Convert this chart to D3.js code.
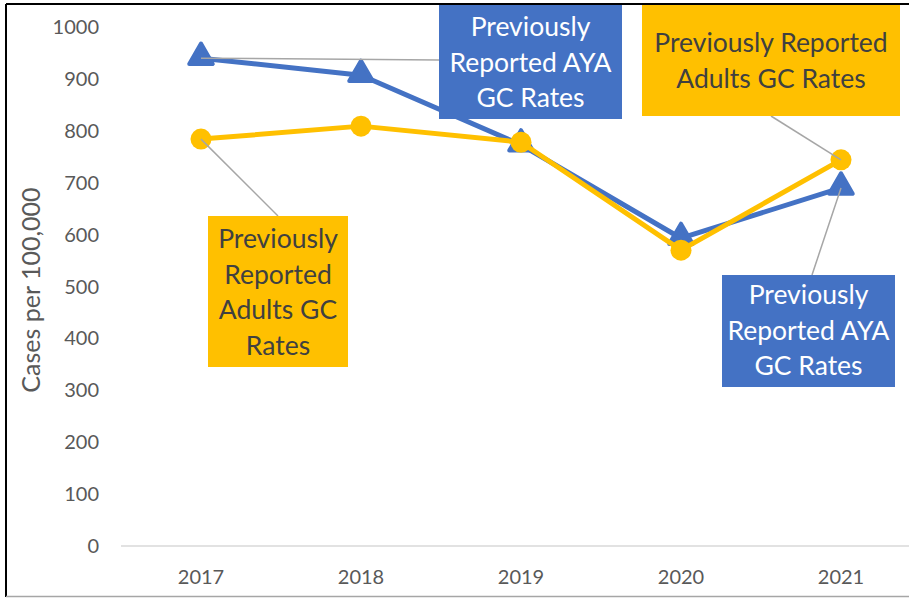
<!DOCTYPE html>
<html>
<head>
<meta charset="UTF-8">
<title>GC Rates</title>
<style>
  body { margin: 0; background: #fff; }
  svg text { font-family: Lato, "Open Sans", sans-serif; }
</style>
</head>
<body>
<div id="chart"></div>
<script src="https://d3js.org/d3.v7.min.js"></script>
<script>
// data
var years = ["2017", "2018", "2019", "2020", "2021"];
var ayaRates = [940, 907, 773, 593, 690];
var adultRates = [784, 809, 778, 570, 744];
var yTicks = [0, 100, 200, 300, 400, 500, 600, 700, 800, 900, 1000];

var width = 909, height = 598;
var blue = "#4472c4", gold = "#ffc000", grey = "#595959";

var svg = d3.select("#chart").append("svg")
  .attr("width", width).attr("height", height);

// frame
svg.append("line").attr("x1", 6).attr("x2", width).attr("y1", 4).attr("y2", 4)
  .attr("stroke", "#000").attr("stroke-width", 2);
svg.append("line").attr("x1", 6).attr("x2", 6).attr("y1", 4).attr("y2", 597)
  .attr("stroke", "#000").attr("stroke-width", 2);
svg.append("line").attr("x1", 6).attr("x2", width).attr("y1", 596.5).attr("y2", 596.5)
  .attr("stroke", "#a6a6a6").attr("stroke-width", 1.5);

var x = d3.scaleBand().domain(years).range([121, 921]);
var y = d3.scaleLinear().domain([0, 1000]).range([546, 27]);
var cx = function(d) { return x(d) + x.bandwidth() / 2; };

// y axis labels
svg.append("g").selectAll("text").data(yTicks).join("text")
  .attr("x", 99).attr("y", function(d) { return y(d); })
  .attr("dy", "0.35em").attr("text-anchor", "end")
  .attr("font-size", 20).attr("fill", grey)
  .text(function(d) { return d; });

// baseline
svg.append("line").attr("x1", 121).attr("x2", width).attr("y1", y(0)).attr("y2", y(0))
  .attr("stroke", "#d9d9d9").attr("stroke-width", 1.5);

// x labels
svg.append("g").selectAll("text").data(years).join("text")
  .attr("x", cx).attr("y", 584).attr("text-anchor", "middle")
  .attr("font-size", 20).attr("fill", grey)
  .text(function(d) { return d; });

// y title
svg.append("text")
  .attr("transform", "translate(40,290) rotate(-90)")
  .attr("text-anchor", "middle").attr("font-size", 25).attr("fill", grey)
  .text("Cases per 100,000");

var line = d3.line().x(function(d, i) { return cx(years[i]); }).y(function(d) { return y(d); });

// leader lines from points to callouts
var leaders = [
  [cx("2017"), y(ayaRates[0]), 439, 60],
  [cx("2017"), y(adultRates[0]), 278, 216],
  [cx("2021"), y(adultRates[4]), 771, 116],
  [cx("2021"), y(ayaRates[4]), 812, 275]
];

svg.append("path").datum(ayaRates).attr("d", line)
  .attr("fill", "none").attr("stroke", blue).attr("stroke-width", 5).attr("stroke-linejoin", "round");
svg.append("g").selectAll("path").data(ayaRates).join("path")
  .attr("d", d3.symbol().type(d3.symbolTriangle).size(240))
  .attr("transform", function(d, i) { return "translate(" + cx(years[i]) + "," + (y(d) - 1) + ")"; })
  .attr("fill", blue).attr("stroke", blue).attr("stroke-width", 4).attr("stroke-linejoin", "round");

svg.append("path").datum(adultRates).attr("d", line)
  .attr("fill", "none").attr("stroke", gold).attr("stroke-width", 5).attr("stroke-linejoin", "round");
svg.append("g").selectAll("circle").data(adultRates).join("circle")
  .attr("cx", function(d, i) { return cx(years[i]); }).attr("cy", function(d) { return y(d); })
  .attr("r", 10.5).attr("fill", gold);

svg.append("g").selectAll("line").data(leaders).join("line")
  .attr("x1", function(d) { return d[0]; }).attr("y1", function(d) { return d[1]; })
  .attr("x2", function(d) { return d[2]; }).attr("y2", function(d) { return d[3]; })
  .attr("stroke", "#a6a6a6").attr("stroke-width", 1.5);

// callout boxes
var callouts = [
  { x: 439, y: 5, w: 183, h: 114, fill: blue, color: "#fff", lines: ["Previously", "Reported AYA", "GC Rates"], ty: 27 },
  { x: 642, y: 5, w: 258, h: 111, fill: gold, color: "#404040", lines: ["Previously Reported", "Adults GC Rates"], ty: 43 },
  { x: 208, y: 216, w: 140, h: 151, fill: gold, color: "#404040", lines: ["Previously", "Reported", "Adults GC", "Rates"], ty: 239 },
  { x: 722, y: 275, w: 173, h: 112, fill: blue, color: "#fff", lines: ["Previously", "Reported AYA", "GC Rates"], ty: 295 }
];
callouts.forEach(function(c) {
  var g = svg.append("g");
  g.append("rect").attr("x", c.x).attr("y", c.y).attr("width", c.w).attr("height", c.h).attr("fill", c.fill);
  g.selectAll("text").data(c.lines).join("text")
    .attr("x", c.x + c.w / 2).attr("y", function(d, i) { return c.ty + i * 35.5; })
    .attr("dy", "0.35em").attr("text-anchor", "middle")
    .attr("font-size", 26.5).attr("fill", c.color)
    .text(function(d) { return d; });
});
</script>
</body>
</html>
